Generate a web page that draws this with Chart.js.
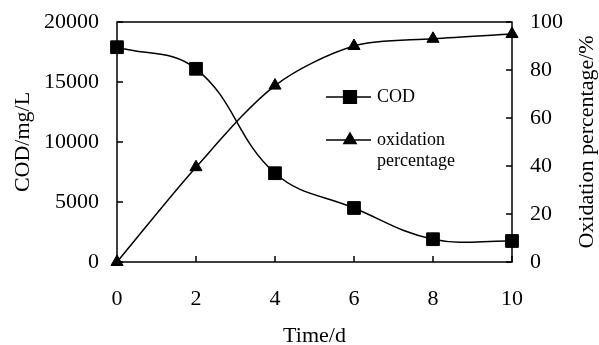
<!DOCTYPE html>
<html>
<head>
<meta charset="utf-8">
<script src="https://cdn.jsdelivr.net/npm/chart.js@4"></script>
<style>
  html, body { margin: 0; padding: 0; background: #fff; }
  #wrap { width: 599px; height: 345px; }
</style>
</head>
<body>
<div id="wrap"><canvas id="myChart"></canvas></div>
<script>
const days = [0, 2, 4, 6, 8, 10];
const codValues = [17900, 16100, 7400, 4500, 1900, 1750];
const oxidationValues = [0, 39.5, 73.5, 90, 93, 95];
const codTicks = [0, 5000, 10000, 15000, 20000];
const oxTicks = [0, 20, 40, 60, 80, 100];
const xTicks = [0, 2, 4, 6, 8, 10];

const FONT = 'Liberation Serif';
const FSIZE = 22;

// box around plot + inward tick marks + right title + in-plot legend
const framePlugin = {
    id: 'frame',
    afterDraw(chart) {
        const ctx = chart.ctx;
        const a = chart.chartArea;
        const sx = chart.scales.x, sy = chart.scales.y, sy1 = chart.scales.y1;
        ctx.save();
        ctx.strokeStyle = '#000';
        ctx.lineWidth = 1.5;
        ctx.strokeRect(a.left, a.top, a.right - a.left, a.bottom - a.top);
        ctx.beginPath();
        xTicks.forEach(v => {
            const px = sx.getPixelForValue(v);
            ctx.moveTo(px, a.bottom);
            ctx.lineTo(px, a.bottom - 6);
        });
        codTicks.forEach(v => {
            const py = sy.getPixelForValue(v);
            ctx.moveTo(a.left, py);
            ctx.lineTo(a.left + 6, py);
        });
        oxTicks.forEach(v => {
            const py = sy1.getPixelForValue(v);
            ctx.moveTo(a.right, py);
            ctx.lineTo(a.right - 6, py);
        });
        ctx.stroke();

        ctx.fillStyle = '#000';

        // right axis title, reading bottom to top
        ctx.save();
        ctx.font = FSIZE + 'px "' + FONT + '"';
        ctx.translate(587, (a.top + a.bottom) / 2);
        ctx.rotate(-Math.PI / 2);
        ctx.textAlign = 'center';
        ctx.textBaseline = 'middle';
        ctx.fillText('Oxidation percentage/%', 0, 0);
        ctx.restore();

        // legend
        ctx.font = '18px "' + FONT + '"';
        ctx.textBaseline = 'middle';
        const lx = 326, rows = [97, 140];
        rows.forEach((ry, i) => {
            ctx.beginPath();
            ctx.moveTo(lx, ry);
            ctx.lineTo(lx + 45, ry);
            ctx.stroke();
            Chart.helpers.drawPoint(ctx, {
                pointStyle: i === 0 ? 'rect' : 'triangle',
                radius: i === 0 ? 9 : 7,
                borderWidth: 1
            }, lx + 24, ry);
            ctx.fill();
        });
        ctx.fillText('COD', lx + 51, rows[0]);
        ctx.fillText('oxidation', lx + 51, rows[1]);
        ctx.fillText('percentage', lx + 51, rows[1] + 21);
        ctx.restore();
    }
};

const noOverhang = s => { s.paddingTop = 0; s.paddingBottom = 0; s.paddingLeft = 0; s.paddingRight = 0; };

const ctx = document.getElementById('myChart').getContext('2d');
const myChart = new Chart(ctx, {
    type: 'line',
    data: {
        labels: days,
        datasets: [{
            label: 'COD',
            data: days.map((d, i) => ({ x: d, y: codValues[i] })),
            yAxisID: 'y',
            borderColor: '#000',
            backgroundColor: '#000',
            borderWidth: 1.5,
            pointStyle: 'rect',
            pointRadius: 9,
            pointBorderWidth: 1,
            tension: 0.4,
            clip: false
        }, {
            label: 'oxidation percentage',
            data: days.map((d, i) => ({ x: d, y: oxidationValues[i] })),
            yAxisID: 'y1',
            borderColor: '#000',
            backgroundColor: '#000',
            borderWidth: 1.5,
            pointStyle: 'triangle',
            pointRadius: 7,
            pointBorderWidth: 1,
            tension: 0.3,
            clip: false
        }]
    },
    options: {
        responsive: true,
        maintainAspectRatio: false,
        animation: false,
        layout: { padding: { top: 22, right: 0, bottom: 0, left: 0 } },
        plugins: {
            legend: { display: false },
            tooltip: { enabled: false }
        },
        scales: {
            x: {
                type: 'linear',
                min: 0, max: 10,
                grid: { display: false, drawTicks: false },
                border: { display: false },
                afterBuildTicks: s => { s.ticks = xTicks.map(v => ({ value: v })); },
                afterFit: s => { s.height = 83; noOverhang(s); },
                ticks: { color: '#000', font: { family: FONT, size: FSIZE }, padding: 24, maxRotation: 0 },
                title: { display: true, text: 'Time/d', color: '#000', font: { family: FONT, size: FSIZE }, padding: { top: 0, bottom: -4 } }
            },
            y: {
                position: 'left',
                min: 0, max: 20000,
                grid: { display: false, drawTicks: false },
                border: { display: false },
                afterBuildTicks: s => { s.ticks = codTicks.map(v => ({ value: v })); },
                afterFit: s => { s.width = 117; noOverhang(s); },
                ticks: { color: '#000', font: { family: FONT, size: FSIZE }, padding: 18, callback: v => String(v) },
                title: { display: true, text: 'COD/mg/L', color: '#000', font: { family: FONT, size: FSIZE }, padding: { top: 10, bottom: 0 } }
            },
            y1: {
                position: 'right',
                min: 0, max: 100,
                grid: { display: false, drawTicks: false },
                border: { display: false },
                afterBuildTicks: s => { s.ticks = oxTicks.map(v => ({ value: v })); },
                afterFit: s => { s.width = 87; noOverhang(s); },
                ticks: { color: '#000', font: { family: FONT, size: FSIZE }, padding: 18, callback: v => String(v) }
            }
        }
    },
    plugins: [framePlugin]
});
</script>
</body>
</html>
